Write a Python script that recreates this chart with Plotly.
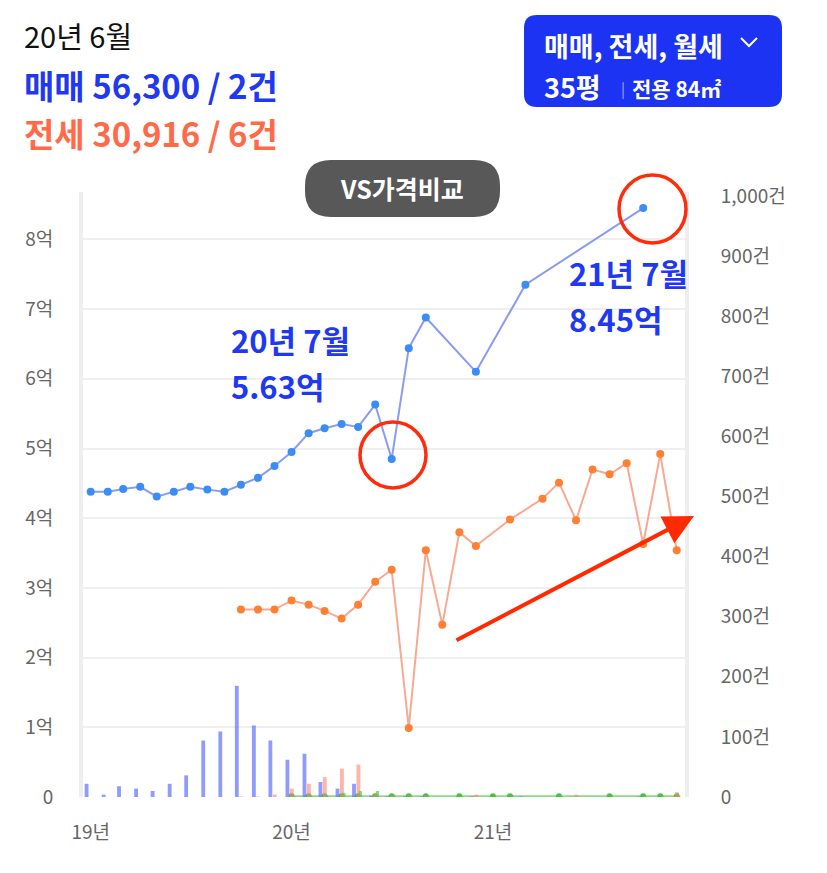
import plotly.graph_objects as go

# page size and plot area (pixels in the page)
W, H = 827, 873
L, R, T, B = 83, 685, 192, 797

FONT = "Noto Sans CJK KR"
BLUE_TXT = "#1f38f2"
ORANGE_TXT = "#ff6a48"
DAY = 86400000


def px(x):
    return (x - L) / (R - L)


def py(y):
    return (B - y) / (B - T)


# monthly axis (Jan 2019 .. Dec 2021)
months = [f"{y}-{m:02d}-01" for y in (2019, 2020, 2021) for m in range(1, 13)]

# 매매 price (억)
sale_months = [
    "2019-01-01", "2019-02-01", "2019-03-01", "2019-04-01", "2019-05-01", "2019-06-01",
    "2019-07-01", "2019-08-01", "2019-09-01", "2019-10-01", "2019-11-01", "2019-12-01",
    "2020-01-01", "2020-02-01", "2020-03-01", "2020-04-01", "2020-05-01", "2020-06-01",
    "2020-07-01", "2020-08-01", "2020-09-01", "2020-12-01", "2021-03-01", "2021-10-01",
]
sale_price = [4.38, 4.38, 4.42, 4.45, 4.31, 4.38, 4.45, 4.41, 4.38, 4.48, 4.58, 4.75,
              4.95, 5.22, 5.29, 5.35, 5.31, 5.63, 4.85, 6.44, 6.88, 6.10, 7.35, 8.45]

# 전세 price (억)
jeonse_months = [
    "2019-10-01", "2019-11-01", "2019-12-01", "2020-01-01", "2020-02-01", "2020-03-01",
    "2020-04-01", "2020-05-01", "2020-06-01", "2020-07-01", "2020-08-01", "2020-09-01",
    "2020-10-01", "2020-11-01", "2020-12-01", "2021-02-01", "2021-04-01", "2021-05-01",
    "2021-06-01", "2021-07-01", "2021-08-01", "2021-09-01", "2021-10-01", "2021-11-01",
    "2021-12-01",
]
jeonse_price = [2.69, 2.69, 2.69, 2.82, 2.76, 2.67, 2.56, 2.76, 3.09, 3.26, 0.99, 3.54,
                2.47, 3.80, 3.60, 3.98, 4.28, 4.51, 3.97, 4.70, 4.63, 4.79, 3.63, 4.92, 3.54]

# 월세 price (억)
wolse_months = [
    "2020-01-01", "2020-02-01", "2020-03-01", "2020-04-01", "2020-05-01", "2020-06-01",
    "2020-07-01", "2020-08-01", "2020-09-01", "2020-11-01", "2021-01-01", "2021-02-01",
    "2021-05-01", "2021-08-01", "2021-10-01", "2021-11-01", "2021-12-01",
]
wolse_price = [0.01, 0.01, 0.01, 0.01, 0.01, 0.01, 0.01, 0.01, 0.01, 0.01, 0.01, 0.01,
               0.01, 0.01, 0.01, 0.01, 0.01]

# transaction counts (건), one per month
sale_count = [22, 4, 18, 14, 10, 22, 36, 94, 109, 185, 119, 94,
              62, 72, 25, 14, 22, 2, 1, 1, 1, 0, 0, 1,
              0, 0, 1, 0, 0, 0, 0, 0, 0, 1, 0, 0]
jeonse_count = [0, 0, 0, 0, 0, 0, 0, 0, 0, 1, 1, 4,
                14, 22, 33, 47, 54, 6, 2, 1, 1, 0, 0, 4,
                0, 0, 0, 0, 0, 4, 0, 0, 0, 0, 0, 8]
wolse_count = [0, 0, 0, 0, 0, 0, 0, 0, 0, 0, 0, 0,
               2, 2, 3, 7, 10, 10, 3, 2, 1, 0, 1, 0,
               1, 2, 0, 0, 1, 0, 0, 1, 0, 1, 1, 2]

price_ticks = [0, 1, 2, 3, 4, 5, 6, 7, 8]
price_labels = ["0", "1억", "2억", "3억", "4억", "5억", "6억", "7억", "8억"]
count_ticks = [0, 100, 200, 300, 400, 500, 600, 700, 800, 900, 1000]
count_labels = ["0", "100건", "200건", "300건", "400건", "500건", "600건",
                "700건", "800건", "900건", "1,000건"]
year_ticks = ["2019-01-01", "2020-01-01", "2021-01-01"]
year_labels = ["19년", "20년", "21년"]

fig = go.Figure()

fig.add_trace(go.Bar(x=months, y=sale_count, yaxis="y2", width=7 * DAY, offset=-11 * DAY,
                     marker_color="rgba(100,118,250,0.72)", marker_line_width=0))
fig.add_trace(go.Bar(x=months, y=jeonse_count, yaxis="y2", width=7 * DAY, offset=-3 * DAY,
                     marker_color="rgba(255,130,110,0.6)", marker_line_width=0))
fig.add_trace(go.Bar(x=months, y=wolse_count, yaxis="y2", width=6 * DAY, offset=1 * DAY,
                     marker_color="rgba(95,200,85,0.7)", marker_line_width=0))

fig.add_trace(go.Scatter(x=wolse_months, y=wolse_price, mode="lines+markers",
                         line=dict(color="#8fd98a", width=2),
                         marker=dict(color="#4cbf45", size=6)))
fig.add_trace(go.Scatter(x=jeonse_months, y=jeonse_price, mode="lines+markers",
                         line=dict(color="#f9a892", width=2),
                         marker=dict(color="#ff7f33", size=8)))
fig.add_trace(go.Scatter(x=sale_months, y=sale_price, mode="lines+markers",
                         line=dict(color="#8a9bf4", width=2),
                         marker=dict(color="#3c8cf6", size=8)))


def rounded_rect(x0, y0, x1, y1, r):
    pts = [
        f"M {px(x0 + r)},{py(y0)}",
        f"L {px(x1 - r)},{py(y0)}",
        f"Q {px(x1)},{py(y0)} {px(x1)},{py(y0 + r)}",
        f"L {px(x1)},{py(y1 - r)}",
        f"Q {px(x1)},{py(y1)} {px(x1 - r)},{py(y1)}",
        f"L {px(x0 + r)},{py(y1)}",
        f"Q {px(x0)},{py(y1)} {px(x0)},{py(y1 - r)}",
        f"L {px(x0)},{py(y0 + r)}",
        f"Q {px(x0)},{py(y0)} {px(x0 + r)},{py(y0)}",
        "Z",
    ]
    return " ".join(pts)


shapes = [
    dict(type="path", xref="paper", yref="paper", path=rounded_rect(524, 15, 782, 107, 13),
         fillcolor="#1d33f4", line_width=0, layer="above"),
    dict(type="path", xref="paper", yref="paper",
         path=f"M {px(741)},{py(38)} L {px(749)},{py(46)} L {px(757)},{py(38)}",
         line=dict(color="white", width=2), layer="above"),
    dict(type="path", xref="paper", yref="paper", path=rounded_rect(305, 160, 500, 217, 26),
         fillcolor="#585858", line_width=0, layer="above"),
    dict(type="circle", xref="paper", yref="paper",
         x0=px(360), x1=px(426), y0=py(488), y1=py(422),
         line=dict(color="#ff2b0a", width=3.5), layer="above"),
    dict(type="circle", xref="paper", yref="paper",
         x0=px(619), x1=px(686), y0=py(243), y1=py(175),
         line=dict(color="#ff2b0a", width=3.5), layer="above"),
]


def note(x, y, text, size, color, bold=False, anchor="left"):
    if bold:
        text = f"<b>{text}</b>"
    return dict(xref="paper", yref="paper", x=px(x), y=py(y), text=text, showarrow=False,
                xanchor=anchor, yanchor="middle", align="left",
                font=dict(family=FONT, size=size, color=color))


annotations = [
    note(22, 35, "20년 6월", 29, "#111111"),
    note(22, 85, "매매 56,300 / 2건", 33, BLUE_TXT, bold=True),
    note(22, 133, "전세 30,916 / 6건", 33, ORANGE_TXT, bold=True),
    note(542, 46, "매매, 전세, 월세", 27, "white", bold=True),
    note(542, 87, "35평", 27, "white", bold=True),
    note(619, 88, "|", 15, "rgba(255,255,255,0.6)"),
    note(630, 88, "전용 84㎡", 21, "white", bold=True),
    note(402, 188, "VS가격비교", 25, "white", bold=True, anchor="center"),
    note(229, 339, "20년 7월", 31, BLUE_TXT, bold=True),
    note(229, 385, "5.63억", 31, BLUE_TXT, bold=True),
    note(567, 272, "21년 7월", 31, BLUE_TXT, bold=True),
    note(567, 318, "8.45억", 31, BLUE_TXT, bold=True),
    dict(xref="paper", yref="paper", x=px(694), y=py(516), ax=455 - 694, ay=641 - 516,
         text="", showarrow=True, arrowhead=2, arrowsize=1.5, arrowwidth=4,
         arrowcolor="#ff2a00", standoff=0),
]

fig.update_layout(
    width=W,
    height=H,
    margin=dict(l=L, r=W - R, t=T, b=H - B, autoexpand=False),
    plot_bgcolor="white",
    paper_bgcolor="white",
    showlegend=False,
    barmode="overlay",
    font=dict(family=FONT, size=19, color="#666666"),
    xaxis=dict(type="date", range=["2018-12-18", "2021-12-16"], tickvals=year_ticks,
               ticktext=year_labels, showgrid=False, showline=False, zeroline=False,
               ticks="", ticklabelstandoff=22, tickfont=dict(size=19, color="#666666")),
    yaxis=dict(range=[0, (B - T) / 69.7], tickvals=price_ticks, ticktext=price_labels,
               showgrid=True, gridcolor="#efefef", gridwidth=1.5, zeroline=False,
               showline=True, linecolor="#eeeeee", linewidth=4, ticks="",
               ticklabelstandoff=22, tickfont=dict(size=19, color="#666666")),
    yaxis2=dict(overlaying="y", side="right", range=[0, (B - T) / 0.601],
                tickvals=count_ticks, ticktext=count_labels, showgrid=False,
                zeroline=False, showline=True, linecolor="#eeeeee", linewidth=4,
                ticks="", ticklabelstandoff=28, tickfont=dict(size=19, color="#666666")),
    shapes=shapes,
    annotations=annotations,
)

fig.write_html("out.html", config={"displayModeBar": False},
               post_script="document.body.style.margin='0px';")
